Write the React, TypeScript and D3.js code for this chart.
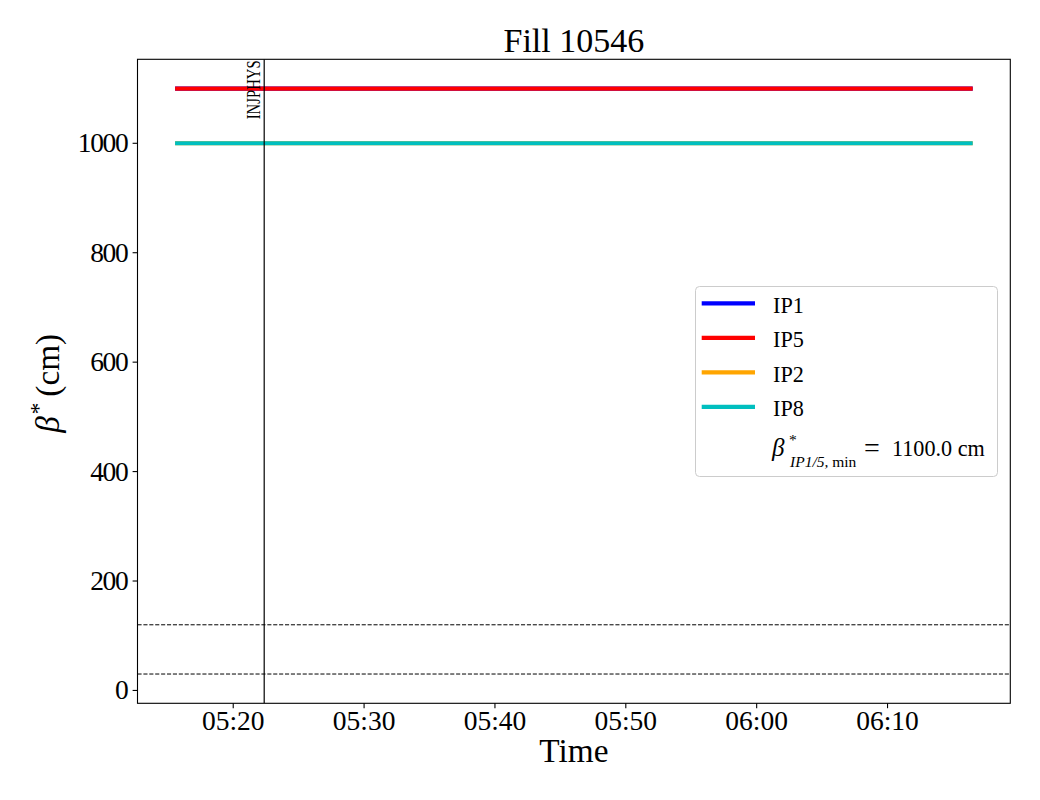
import React from 'react';
import * as d3 from 'd3';

// ---- data ----
const seriesNames = ['IP1', 'IP5', 'IP2', 'IP8'];
const seriesColors = ['#0000ff', '#ff0000', '#ffa500', '#00bfbf'];
const seriesValues = [1100, 1100, 1000, 1000]; // beta* in cm, constant during the fill
const timeStart = '2022-01-01T05:15:43Z';
const timeEnd = '2022-01-01T06:16:21Z';
const refLevels = [30, 120]; // dashed reference lines (cm)
const markerTime = '2022-01-01T05:22:22Z';
const markerLabel = 'INJPHYS';
const yTicks = [0, 200, 400, 600, 800, 1000];
const xTickLabels = ['05:20', '05:30', '05:40', '05:50', '06:00', '06:10'];
const titleText = 'Fill 10546';
const minBetaText = '1100.0 cm';

const W = 1040;
const H = 800;
const L = 137.5, R = 1010.3, T = 59.3, B = 703.3;
const FONT = '"Liberation Serif", "Times New Roman", serif';

export default function App() {
  const t0 = new Date(timeStart);
  const t1 = new Date(timeEnd);
  const span = t1.getTime() - t0.getTime();
  const x = d3
    .scaleUtc()
    .domain([new Date(t0.getTime() - 0.05 * span), new Date(t1.getTime() + 0.05 * span)])
    .range([L, R]);
  const allY = [...seriesValues, ...refLevels];
  const yMin = d3.min(allY) as number;
  const yMax = d3.max(allY) as number;
  const yr = yMax - yMin;
  const y = d3.scaleLinear().domain([yMin - 0.05 * yr, yMax + 0.05 * yr]).range([B, T]);

  const line = d3
    .line<[Date, number]>()
    .x((d) => x(d[0]))
    .y((d) => y(d[1]));

  const xm = x(new Date(markerTime));
  const tickDate = (s: string) => new Date(`2022-01-01T${s}:00Z`);

  const legX = 695.5, legY = 286.5, legW = 302, legH = 190;
  const rowH = 34.5;
  const firstRow = 303.3;

  return (
    <svg width={W} height={H} style={{ position: 'absolute', left: 0, top: 0, background: '#fff' }} fontFamily={FONT}>
      <rect x={0} y={0} width={W} height={H} fill="#fff" />
      <defs>
        <clipPath id="plotclip">
          <rect x={L} y={T} width={R - L} height={B - T} />
        </clipPath>
      </defs>

      <g clipPath="url(#plotclip)">
        {seriesNames.map((n, i) => (
          <path
            key={n}
            d={line([[t0, seriesValues[i]], [t1, seriesValues[i]]]) || ''}
            stroke={seriesColors[i]}
            strokeWidth={4.17}
            strokeLinecap="square"
            fill="none"
          />
        ))}
        {refLevels.map((v) => (
          <line key={v} x1={L} x2={R} y1={y(v)} y2={y(v)} stroke="#000" strokeWidth={1} strokeDasharray="4.1 1.8" />
        ))}
        <line x1={xm} x2={xm} y1={T} y2={B} stroke="#000" strokeWidth={1.2} />
      </g>
      <text
        transform={`translate(${xm - 4.5},${T + 1}) rotate(-90)`}
        textAnchor="end"
        fontSize={18.5}
        textLength={59}
        lengthAdjust="spacingAndGlyphs"
        fill="#000"
      >
        {markerLabel}
      </text>

      {/* frame */}
      <rect x={L} y={T} width={R - L} height={B - T} fill="none" stroke="#000" strokeWidth={1.1} />

      {/* y axis */}
      {yTicks.map((v) => (
        <g key={v}>
          <line x1={L - 4.9} x2={L} y1={y(v)} y2={y(v)} stroke="#000" strokeWidth={1.1} />
          <text x={L - 10} y={y(v) + 9} textAnchor="end" fontSize={27.5} letterSpacing={-1.3}>
            {v}
          </text>
        </g>
      ))}

      {/* x axis */}
      {xTickLabels.map((s) => {
        const xv = x(tickDate(s));
        return (
          <g key={s}>
            <line x1={xv} x2={xv} y1={B} y2={B + 4.9} stroke="#000" strokeWidth={1.1} />
            <text x={xv} y={730} textAnchor="middle" fontSize={27.5}>
              {s}
            </text>
          </g>
        );
      })}

      {/* title & labels */}
      <text x={(L + R) / 2} y={51.7} textAnchor="middle" fontSize={34}>
        {titleText}
      </text>
      <text x={(L + R) / 2} y={762.3} textAnchor="middle" fontSize={33.3}>
        Time
      </text>
      <text transform={`translate(59,${(T + B) / 2 + 2}) rotate(-90)`} textAnchor="middle" fontSize={33.3}>
        <tspan fontStyle="italic">β</tspan>
        <tspan dx={2} dy={-13} fontSize={23}>*</tspan>
        <tspan dx={6} dy={13}>(cm)</tspan>
      </text>

      {/* legend */}
      <rect x={legX} y={legY} width={legW} height={legH} rx={4} ry={4} fill="#fff" fillOpacity={0.8} stroke="#cccccc" strokeWidth={1} />
      {seriesNames.map((n, i) => {
        const ly = firstRow + i * rowH;
        return (
          <g key={n}>
            <line x1={701.7} x2={755} y1={ly} y2={ly} stroke={seriesColors[i]} strokeWidth={4.17} />
            <text x={773} y={ly + 9.4} fontSize={22.2}>
              {n}
            </text>
          </g>
        );
      })}
      <g fontSize={22.2}>
        <text x={772} y={455.7} fontStyle="italic" fontSize={25}>β</text>
        <text x={789} y={445} fontSize={15.5}>*</text>
        <text x={790} y={466.7} fontSize={15.5}>
          <tspan fontStyle="italic">IP1/5,</tspan>
          <tspan> min</tspan>
        </text>
        <text x={864} y={456.5} fontSize={28}>=</text>
        <text x={892} y={455.7}>{minBetaText}</text>
      </g>
    </svg>
  );
}
